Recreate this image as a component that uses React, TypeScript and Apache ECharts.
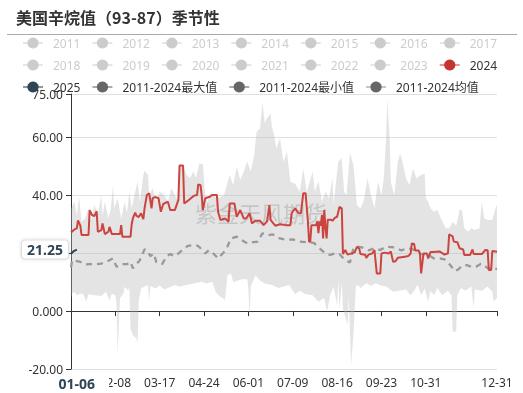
import React, { useEffect, useRef } from 'react';
import * as echarts from 'echarts';

const TITLE = '美国辛烷值（93-87）季节性';
const WATERMARK = '紫金天风期货';
const HIDDEN_YEARS = ['2011', '2012', '2013', '2014', '2015', '2016', '2017', '2018', '2019', '2020', '2021', '2022', '2023'];
const MAX_NAME = '2011-2024最大值';
const MIN_NAME = '2011-2024最小值';
const MEAN_NAME = '2011-2024均值';
const LEGEND_ROW1 = ['2011', '2012', '2013', '2014', '2015', '2016', '2017'];
const LEGEND_ROW2 = ['2018', '2019', '2020', '2021', '2022', '2023', '2024'];
const LEGEND_ROW3 = ['2025', MAX_NAME, MIN_NAME, MEAN_NAME];

// Categories: every day of a (leap) season year, MM-DD
const categories: string[] = [];
for (let i = 0; i < 366; i++) {
  const t = new Date(Date.UTC(2024, 0, 1 + i));
  categories.push(String(t.getUTCMonth() + 1).padStart(2, '0') + '-' + String(t.getUTCDate()).padStart(2, '0'));
}

const Y_MIN = -20;
const Y_MAX = 75;
const Y_INTERVAL = 20;
const LABEL_EVERY = 38;
const LAST_REGULAR_LABEL = 304;
const POINTER_DATE = '01-06';
const POINTER_VALUE = 21.25;

// [day index, value]
const y2024: [number, number][] = [[0,27.2],[3,28.2],[5,28.6],[6,31.3],[8,29.5],[9,26.3],[15,26.3],[16,34.9],[18,33.2],[20,32.8],[22,34.5],[23,27.4],[26,28],[27,30.3],[29,26.6],[32,27.4],[33,29.1],[35,26.6],[42,26.6],[43,29.7],[44,25.7],[51,25.7],[52,30],[53,32],[55,34],[56,33],[58,32.5],[60,33.8],[62,31.8],[63,35.5],[65,40.1],[67,40.7],[69,35.5],[70,39],[72,39.4],[75,39],[77,34.3],[79,37],[83,37.8],[85,34.9],[89,34.9],[92,38.4],[93,50.3],[96,50.3],[97,37.2],[101,38.4],[105,39.8],[108,40.1],[109,43.8],[111,43.5],[112,40],[113,34.9],[115,39],[119,39.5],[121,40.1],[125,40.1],[126,34.3],[128,31.5],[132,32],[135,30.9],[136,37.2],[140,37.2],[142,32.6],[145,34.9],[148,32],[150,32],[153,33.8],[155,30.3],[158,31.2],[162,31.2],[165,29.7],[168,31],[170,36.6],[171,31.5],[173,30.5],[175,29.5],[179,30],[184,29.7],[188,29.7],[189,33.8],[192,35.5],[195,33.8],[197,33.8],[199,40.7],[201,40.7],[203,30.9],[204,24],[205,24],[206,29.7],[210,29.7],[211,31],[212,26.9],[213,31],[214,29.5],[215,33.2],[216,25.1],[217,34.9],[218,29],[219,25.1],[220,31.6],[223,31.6],[224,31.2],[226,32.2],[228,32.6],[230,36],[232,35.5],[233,19.7],[235,21.1],[237,19.5],[243,20.3],[245,22.2],[247,21.5],[248,19.7],[252,19.5],[253,18.4],[255,19.5],[258,19.9],[260,21.1],[261,17],[262,13],[265,13],[266,19.9],[269,20.2],[272,19.9],[274,20.6],[276,17],[278,17.2],[280,18.4],[286,18.8],[289,19],[291,19.9],[292,23.4],[294,23.2],[295,20.9],[298,20.9],[299,19.7],[300,13],[302,19.9],[305,19.9],[306,18.2],[308,20.4],[310,20.4],[316,20.6],[320,19.5],[323,20],[324,26.5],[327,25.8],[328,24],[331,23.8],[333,21.7],[336,21.3],[337,19.4],[342,19.4],[344,21.3],[345,19.7],[352,19.7],[355,21.1],[357,21],[358,14.2],[360,14.2],[361,20.8],[365,20.5]];

const y2025: [number, number][] = [[0,19.8],[2,20.6],[5,21.25]];

const maxPts: [number, number][] = [[0,35.5],[3,37.8],[5,33],[7,39.5],[9,30.9],[12,32],[15,35.5],[17,31],[20,36.6],[23,33.5],[26,40.1],[27,33],[29,37.8],[32,32],[34,35],[36,43.6],[37,35.5],[40,39],[43,32],[46,37.8],[48,34],[50,41.2],[52,35.5],[55,41.2],[57,44.7],[59,37.8],[62,47],[63,48.7],[66,47],[67,40],[70,42.4],[73,37.8],[76,41.2],[80,40.1],[83,37.8],[86,42.4],[89,40.1],[92,37.8],[93,50.3],[96,50.3],[99,47],[102,46],[105,48.2],[107,46],[110,51],[113,50.7],[115,40.1],[117,37.8],[120,41.2],[121,40.1],[126,39],[131,40],[136,47],[139,43.5],[142,49.9],[145,45.3],[148,48.2],[151,51.6],[154,48.2],[157,53.9],[159,62],[162,63.1],[164,72.3],[166,65],[168,66.6],[171,68.3],[172,64],[174,60.8],[176,56.2],[179,59.7],[182,51.6],[185,55],[188,44.7],[192,44],[196,41.2],[199,49.3],[202,41],[207,48.2],[209,41.2],[212,45],[215,37.8],[218,41.2],[221,39],[224,45.9],[225,37],[229,51.6],[232,52.8],[234,41.2],[236,40],[239,54.5],[242,50.5],[243,46],[245,36.6],[248,35.5],[251,38.4],[254,45.9],[257,40],[260,35.5],[263,44.7],[266,40],[268,45.9],[270,59.7],[271,73.5],[273,59.7],[274,44.7],[277,40],[280,51.6],[282,54.5],[284,51.6],[287,45.9],[290,43.5],[293,49.3],[296,45.9],[300,47],[303,47.5],[304,39],[306,37.8],[308,35.5],[311,34.3],[314,34.9],[317,32],[321,28.6],[324,28.6],[327,30.9],[330,29.5],[333,34.9],[335,34.9],[337,28.6],[340,27.4],[343,28.6],[346,28],[350,28.6],[352,37.8],[354,32],[357,31.5],[361,31.5],[364,36],[365,36.5]];

const minPts: [number, number][] = [[0,4.4],[1,6.1],[3,6.7],[5,5.5],[9,6.2],[11,5.5],[13,3.2],[15,5.8],[20,5.5],[26,5.2],[30,6.7],[33,3.6],[35,6.1],[38,5.5],[39,3],[40,-15.2],[41,-4],[42,4.4],[45,6.2],[46,8.4],[49,7],[50,8.4],[51,-6],[53,-8.3],[56,-9.4],[57,-11.2],[58,3.5],[60,7.8],[63,8.5],[66,9],[67,3.5],[68,8.8],[72,7.8],[76,8.8],[80,7.5],[83,8],[89,9],[93,8.4],[99,9],[106,9.6],[112,10.1],[116,9.5],[121,10.1],[124,6.5],[128,5],[130,4.4],[132,3.8],[134,12.4],[137,13],[139,10],[142,10.5],[147,11],[151,11],[152,8],[153,-3.1],[154,8.5],[158,12.4],[162,10.5],[166,9.5],[172,9],[178,8],[182,8.5],[187,9],[192,5.8],[196,7],[201,5.8],[207,5.5],[212,3.2],[217,4.5],[219,0.3],[220,0.9],[222,5.5],[225,8.5],[228,2],[229,11],[230,0.5],[232,10],[233,0.9],[237,-4.8],[238,5],[240,-18.7],[242,-8],[244,8.5],[246,9],[248,8],[253,9.6],[257,8.8],[261,9.6],[266,8.8],[270,8.5],[276,6.7],[281,7],[287,7.5],[291,5.5],[294,7],[297,9.2],[300,5.5],[303,7.8],[306,3.2],[308,7],[311,5.5],[314,8],[318,5.5],[323,7],[326,5.5],[327,-7.1],[330,-7.1],[331,5.5],[334,8],[338,7],[343,8.5],[345,0.9],[346,7.5],[352,7],[357,8.5],[361,6.7],[362,3.2],[365,4.5]];

const meanPts: [number, number][] = [[0,15.1],[1,17.6],[8,17],[12,16.1],[16,16.2],[22,16.2],[26,16.4],[32,17.4],[36,18.2],[39,15.3],[43,16.2],[48,16.2],[51,17],[53,14.8],[56,16.2],[59,17.6],[63,21.3],[65,21],[68,19],[71,19.9],[73,17],[78,16.2],[82,19],[85,19.7],[89,19],[92,19.9],[96,21.3],[100,22.5],[105,22.9],[109,22.5],[112,21.3],[115,19.9],[118,21],[122,19.9],[126,18.2],[129,19.5],[133,21.3],[137,25.1],[142,25.7],[146,24.6],[151,23.4],[156,23.8],[160,24],[164,26.9],[168,26.2],[173,26.5],[179,25.1],[185,24.6],[190,24.8],[196,24],[202,23.8],[208,23.6],[213,21.7],[218,19.9],[222,19.4],[226,19.9],[230,19.7],[235,17.5],[239,16.8],[242,21.7],[245,22.3],[250,21.9],[255,21],[260,21.7],[265,21.1],[270,22.3],[277,22],[283,21],[288,21.7],[293,21.3],[300,19.7],[306,19.5],[311,18.2],[316,18.2],[320,17.9],[325,15.9],[329,13.8],[332,14.5],[336,15.9],[339,15.9],[343,15.3],[347,15.3],[351,16.3],[353,16.3],[357,14.8],[362,14.8],[365,14.5]];

const FONT = '"Noto Sans", "Noto Sans CJK SC", sans-serif';

const showTick = (i: number) => (i % LABEL_EVERY === 0 && i <= LAST_REGULAR_LABEL) || i === categories.length - 1;

function legendRow(data: string[], top: number) {
  const selected: Record<string, boolean> = {};
  data.forEach((n) => { selected[n] = HIDDEN_YEARS.indexOf(n) < 0; });
  return {
    data,
    selected,
    top,
    left: 22,
    padding: 0,
    itemWidth: 20,
    itemHeight: 14,
    itemGap: 11,
    inactiveColor: '#ccc',
    textStyle: { fontSize: 12, color: '#333', fontFamily: FONT, padding: [0, 0, 0, 5] },
    lineStyle: { width: 2, type: 'solid', opacity: 0.55 },
    itemStyle: { opacity: 1 },
  };
}

export default function App() {
  const ref = useRef<HTMLDivElement>(null);
  useEffect(() => {
    if (!ref.current) return;
    const chart = echarts.init(ref.current, null, { renderer: 'svg' });
    const lineBase = { type: 'line', symbol: 'circle', showSymbol: false, xAxisIndex: 0 };
    const option: any = {
      animation: false,
      textStyle: { fontFamily: FONT },
      title: {
        text: TITLE,
        left: 16,
        top: 9,
        padding: 0,
        textStyle: { fontSize: 16, fontWeight: 'bold', color: '#333', fontFamily: '"Noto Sans CJK SC", sans-serif' },
      },
      graphic: [
        { type: 'line', shape: { x1: 7, y1: 34.5, x2: 517, y2: 34.5 }, style: { stroke: '#aaa', lineWidth: 1 }, silent: true },
        {
          type: 'text', left: 195, top: 201, z: 3, silent: true,
          style: { text: WATERMARK, fontSize: 22, fill: 'rgba(140,140,140,0.35)', fontFamily: '"Noto Sans CJK SC", sans-serif' },
        },
      ],
      legend: [legendRow(LEGEND_ROW1, 37), legendRow(LEGEND_ROW2, 59), legendRow(LEGEND_ROW3, 81)],
      grid: { left: 71, right: 26, top: 94, bottom: 24, containLabel: false },
      xAxis: [
        {
          type: 'category', data: categories, boundaryGap: false, position: 'bottom',
          axisLine: { show: false, onZero: false },
          axisTick: { show: false },
          splitLine: { show: false },
          axisLabel: { interval: (i: number) => showTick(i), color: '#333', fontSize: 12, margin: 7 },
          axisPointer: {
            show: true, status: 'show', value: categories.indexOf(POINTER_DATE), triggerTooltip: false,
            type: 'line', lineStyle: { opacity: 0 },
            label: { show: true, backgroundColor: '#fff', color: '#2f4554', fontWeight: 'bold', fontSize: 14, padding: [2, 14], margin: 5 },
          },
        },
        {
          type: 'category', data: categories, boundaryGap: false, position: 'bottom',
          axisLine: { show: true, onZero: true, lineStyle: { color: '#333', width: 1 } },
          axisTick: { show: true, interval: (i: number) => showTick(i), length: 5, lineStyle: { color: '#333' } },
          axisLabel: { show: false },
          splitLine: { show: false },
        },
      ],
      yAxis: {
        type: 'value', min: Y_MIN, max: Y_MAX, interval: Y_INTERVAL,
        axisLine: { show: true, lineStyle: { color: '#333' } },
        axisTick: { show: true, length: 5, lineStyle: { color: '#333' } },
        axisLabel: { formatter: (v: number) => v.toPrecision(4), color: '#333', fontSize: 12, margin: 8 },
        splitLine: { show: true, lineStyle: { color: '#e0e0e0' } },
        axisPointer: {
          show: true, status: 'show', value: POINTER_VALUE, triggerTooltip: false,
          type: 'line', lineStyle: { opacity: 0 },
          label: {
            show: true, backgroundColor: '#fff', borderColor: '#ddd', borderWidth: 1,
            shadowBlur: 3, shadowColor: 'rgba(0,0,0,0.15)',
            color: '#2f4554', fontWeight: 'bold', fontSize: 14, padding: [2, 5],
          },
        },
      },
      axisPointer: { triggerOn: 'none' },
      series: [
        {
          type: 'custom', name: 'band', silent: true, z: 1, clip: true, xAxisIndex: 0,
          data: [[0, 0]],
          renderItem: (_p: any, api: any) => {
            const top = maxPts.map(([d, v]) => api.coord([d, v]));
            const bottom = minPts.slice().reverse().map(([d, v]) => api.coord([d, v]));
            return { type: 'polygon', shape: { points: top.concat(bottom) }, style: { fill: 'rgba(180,180,180,0.36)' } };
          },
        },
        ...HIDDEN_YEARS.map((name) => ({ ...lineBase, name, data: [] })),
        { ...lineBase, name: MAX_NAME, data: maxPts, color: '#666', lineStyle: { opacity: 0 }, z: 2 },
        { ...lineBase, name: MIN_NAME, data: minPts, color: '#666', lineStyle: { opacity: 0 }, z: 2 },
        {
          ...lineBase, name: MEAN_NAME, data: meanPts, z: 4,
          itemStyle: { color: '#666' },
          lineStyle: { color: '#999', width: 2.3, type: [6, 5] },
        },
        { ...lineBase, name: '2024', data: y2024, z: 5, itemStyle: { color: '#c23531' }, lineStyle: { color: '#cc4440', width: 2 } },
        { ...lineBase, name: '2025', data: y2025, z: 6, itemStyle: { color: '#2f4554' }, lineStyle: { color: '#2f4554', width: 2 } },
      ],
    };
    chart.setOption(option);
    return () => chart.dispose();
  }, []);
  return <div ref={ref} style={{ position: 'fixed', left: 0, top: 0, width: 523, height: 393 }} />;
}
